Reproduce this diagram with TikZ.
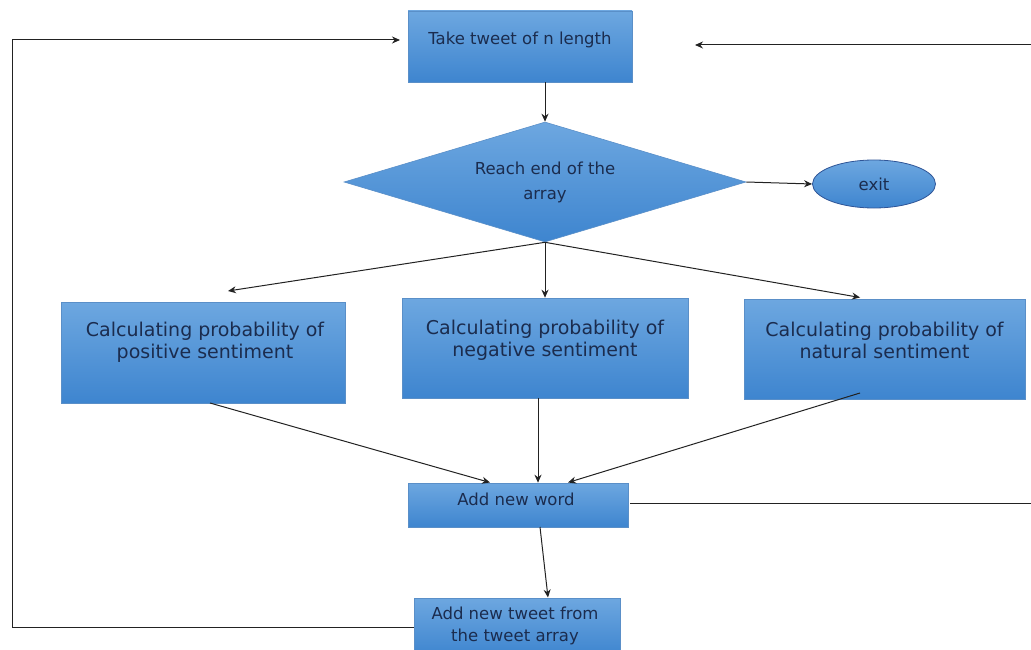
\documentclass[tikz,border=0pt]{standalone}
\usepackage{fontspec}
\setmainfont{DejaVu Sans}
\usetikzlibrary{shapes.geometric,arrows.meta}
\definecolor{txtc}{HTML}{1B2C4E}
\definecolor{topc}{HTML}{6DA7E0}
\definecolor{botc}{HTML}{3E85CF}
\definecolor{edgec}{HTML}{5A8FC8}
\definecolor{ellc}{HTML}{2F5597}
\definecolor{linec}{HTML}{222222}
\tikzset{
  box/.style={rectangle, inner sep=0pt, top color=topc, bottom color=botc, draw=edgec, line width=0.6pt},
  txt/.style={text=txtc, font=\fontsize{16.5}{22}\selectfont, align=center, inner sep=0pt},
  bigtxt/.style={txt, font=\fontsize{19}{22}\selectfont},
  conn/.style={draw=linec, line width=1pt},
  arr/.style={conn, -{Stealth[length=8pt,width=7pt]}},
}
\begin{document}
\begin{tikzpicture}[x=1pt,y=-1pt]
\useasboundingbox (0,0) rectangle (1031,650);
% nodes
\node[box, minimum width=224pt, minimum height=71pt] (take) at (520,46.5) {};
\node[txt] (taket) at (520,40) {Take tweet of n length};
\node[diamond, aspect=3.35, inner sep=0pt, minimum width=402pt, minimum height=120pt, top color=topc, bottom color=botc, draw=edgec, line width=0.6pt, txt, font=\fontsize{16.5}{25}\selectfont] (reach) at (545,182) {Reach end of the\\array};
\node[ellipse, minimum width=123pt, minimum height=48pt, inner sep=0pt, top color=topc, bottom color=botc, draw=ellc, line width=0.8pt, txt] (exit) at (874,184) {exit};
\node[box, minimum width=284pt, minimum height=101pt] (pos) at (203,352.5) {};
\node[bigtxt] (post) at (205,342) {Calculating probability of\\positive sentiment};
\node[box, minimum width=286pt, minimum height=100pt] (neg) at (545,348) {};
\node[bigtxt] (negt) at (545,340) {Calculating probability of\\negative sentiment};
\node[box, minimum width=281pt, minimum height=100pt] (nat) at (884.5,349) {};
\node[bigtxt] (natt) at (884.5,340) {Calculating probability of\\natural sentiment};
\node[box, minimum width=220pt, minimum height=44pt] (word) at (518,505) {};
\node[txt] (wordt) at (516,499) {Add new word};
\node[box, minimum width=206pt, minimum height=58pt] (tweet) at (517,627) {};
\node[txt] (tweett) at (515,626) {Add new tweet from\\the tweet array};
% helper coordinates
\coordinate (posin) at (228,291);
\coordinate (rback) at (1031,45);
\coordinate (wout) at (1031,503);
\coordinate (lcorner1) at (12,627);
\coordinate (lcorner2) at (12,40);
% connectors
\draw[arr] (take.south -| 545,0) -- (reach.north);
\draw[arr] (reach.east) -- (exit.west);
\draw[arr] (reach.south) -- (posin);
\draw[arr] (reach.south) -- (neg.north -| reach.south);
\draw[arr] (reach.south) -- (860,297.5);
\draw[arr] (210,403) -- (490,482.5);
\draw[arr] (538,398) -- (word.north -| 538,0);
\draw[arr] (860,393) -- (568,482.5);
\draw[arr] (540,527) -- (548,597.5);
\draw[conn] (word.east) ++(2,-2) -- (wout);
\draw[arr] (rback) -- (695,45);
\draw[arr] (tweet.west) -- (lcorner1) -- (lcorner2) -- (400,40);
\end{tikzpicture}
\end{document}
